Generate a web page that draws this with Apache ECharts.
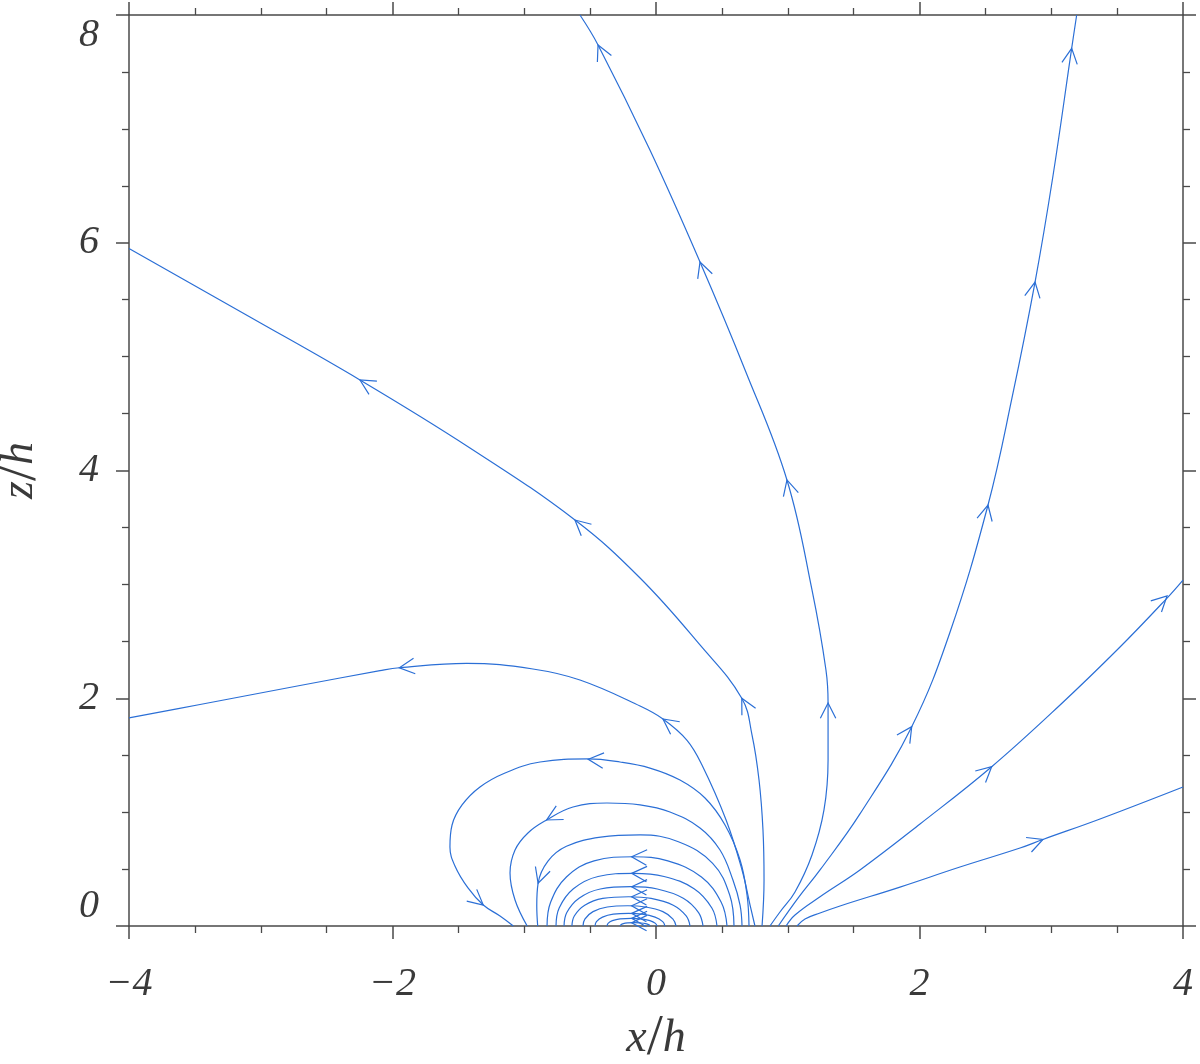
<!DOCTYPE html>
<html><head><meta charset="utf-8">
<script src="https://cdn.jsdelivr.net/npm/echarts@6/dist/echarts.min.js"></script>
<style>html,body{margin:0;padding:0;background:#fff}#c{width:1200px;height:1064px}</style>
</head><body><div id="c"></div>
<script>
// axis ranges / ticks
const xRange = [-4, 4];
const zRange = [0, 8];
const majorStep = 2;

// open field lines [x/h, z/h]
const lineA = [[-4.0,1.827],[-3.461,1.945],[-2.702,2.112],[-2.095,2.242],[-1.948,2.268],[-1.437,2.307],[-0.934,2.257],[-0.577,2.160],[-0.121,1.932],[0.053,1.818],[0.234,1.633],[0.349,1.414],[0.532,0.931],[0.653,0.492],[0.714,0.184],[0.751,0]];
const lineB = [[-4.0,5.950],[-3.082,5.348],[-2.247,4.795],[-1.412,4.198],[-0.615,3.565],[-0.121,3.056],[0.334,2.468],[0.651,2.0],[0.729,1.677],[0.782,1.282],[0.812,0.843],[0.820,0.404],[0.805,0]];
const lineC = [[-0.577,8.0],[-0.440,7.737],[-0.046,6.814],[0.334,5.831],[0.676,4.883],[0.994,3.917],[1.184,2.951],[1.290,2.248],[1.306,1.958],[1.306,1.458],[1.275,1.019],[1.184,0.624],[1.055,0.299],[0.941,0.123],[0.865,0]];
const lineR3 = [[0.928,0],[1.085,0.255],[1.245,0.492],[1.548,0.984],[1.941,1.750],[2.232,2.582],[2.520,3.697],[2.702,4.637],[2.877,5.655],[3.013,6.586],[3.155,7.707],[3.193,8.0]];
const lineR2 = [[0.987,0],[1.055,0.097],[1.245,0.257],[1.548,0.492],[2.004,0.896],[2.548,1.399],[3.067,1.941],[3.522,2.450],[3.879,2.880],[4.0,3.038]];
const lineR1 = [[1.070,0],[1.131,0.061],[1.245,0.114],[1.397,0.176],[1.852,0.342],[2.307,0.518],[2.763,0.685],[2.937,0.760],[3.370,0.940],[4.0,1.221]];

// closed loops
const loopL1 = [[0.706,0],[0.691,0.272],[0.638,0.580],[0.524,0.887],[0.372,1.124],[0.182,1.282],[-0.046,1.387],[-0.273,1.440],[-0.516,1.467],[-0.880,1.440],[-1.146,1.344],[-1.336,1.221],[-1.472,1.063],[-1.548,0.887],[-1.564,0.694],[-1.526,0.527],[-1.427,0.334],[-1.311,0.184],[-1.184,0.088],[-1.083,0]];
const loopL2 = [[0.653,0],[0.638,0.184],[0.584,0.404],[0.486,0.667],[0.334,0.861],[0.106,1.001],[-0.121,1.063],[-0.372,1.080],[-0.630,1.045],[-0.830,0.931],[-0.972,0.817],[-1.070,0.667],[-1.108,0.465],[-1.070,0.228],[-0.978,0]];
const loopL3 = [[0.592,0],[0.56,0.27],[0.43,0.55],[0.17,0.74],[-0.12,0.80],[-0.42,0.78],[-0.68,0.70],[-0.82,0.57],[-0.895,0.375],[-0.905,0.18],[-0.898,0]];
const loopS1 = [[0.539,0],[0.495,0.208],[0.345,0.430],[0.090,0.572],[-0.170,0.608],[-0.470,0.572],[-0.680,0.430],[-0.800,0.208],[-0.827,0]];
const loopS2 = [[0.463,0],[0.424,0.158],[0.289,0.327],[0.061,0.435],[-0.171,0.462],[-0.440,0.435],[-0.627,0.327],[-0.735,0.158],[-0.759,0]];
const loopS3 = [[0.357,0],[0.323,0.118],[0.207,0.244],[0.010,0.325],[-0.191,0.345],[-0.423,0.325],[-0.584,0.244],[-0.677,0.118],[-0.698,0]];
const loopS4 = [[0.258,0],[0.229,0.088],[0.131,0.182],[-0.037,0.242],[-0.207,0.257],[-0.404,0.242],[-0.541,0.182],[-0.620,0.088],[-0.638,0]];
const loopS5 = [[0.152,0],[0.129,0.061],[0.052,0.126],[-0.080,0.167],[-0.214,0.178],[-0.370,0.167],[-0.478,0.126],[-0.540,0.061],[-0.554,0]];
const loopS6 = [[0.068,0],[0.051,0.038],[-0.007,0.078],[-0.107,0.104],[-0.208,0.111],[-0.324,0.104],[-0.406,0.078],[-0.452,0.038],[-0.463,0]];
const loopS7 = [[0.008,0],[-0.004,0.023],[-0.046,0.047],[-0.117,0.063],[-0.189,0.067],[-0.273,0.063],[-0.331,0.047],[-0.364,0.023],[-0.372,0]];
const loopS8 = [[-0.046,0],[-0.053,0.010],[-0.078,0.021],[-0.121,0.027],[-0.164,0.029],[-0.214,0.027],[-0.248,0.021],[-0.268,0.010],[-0.273,0]];

// arrow heads: [tip x, tip z, x behind tip on the line, z behind tip]
const arrows = [
  [2.937,0.760, 2.763,0.685],
  [2.548,1.399, 2.307,1.150],
  [3.879,2.898, 3.674,2.670],
  [1.941,1.750, 1.814,1.528],
  [2.520,3.697, 2.459,3.390],
  [2.877,5.655, 2.839,5.409],
  [3.155,7.707, 3.127,7.473],
  [1.306,1.958, 1.306,1.721],
  [0.994,3.917, 1.055,3.653],
  [0.334,5.831, 0.395,5.629],
  [-0.440,7.737, -0.380,7.587],
  [0.651,2.0, 0.721,1.844],
  [-0.615,3.565, -0.425,3.372],
  [-2.247,4.795, -2.019,4.637],
  [0.053,1.818, 0.175,1.714],
  [-1.948,2.268, -1.796,2.288],
  [-0.514,1.464, -0.364,1.449],
  [-1.311,0.184, -1.427,0.298],
  [-0.830,0.931, -0.697,1.015],
  [-0.895,0.375, -0.850,0.535],
  [-0.185,0.608, -0.045,0.600],
  [-0.185,0.462, -0.045,0.455],
  [-0.185,0.345, -0.045,0.338],
  [-0.185,0.257, -0.045,0.250],
  [-0.185,0.178, -0.045,0.170],
  [-0.185,0.111, -0.045,0.103],
  [-0.185,0.067, -0.045,0.060],
  [-0.185,0.029, -0.045,0.025]
];

const curves = [lineA, lineB, lineC, lineR3, lineR2, lineR1, loopL1, loopL2, loopL3,
  loopS1, loopS2, loopS3, loopS4, loopS5, loopS6, loopS7, loopS8];

const BLUE = '#2b6fd6';
const AX = '#4a4a4a';
const FONT = '"Liberation Serif", serif';
const labelFont = {fontFamily: FONT, fontStyle: 'italic', fontSize: 40, color: '#3a3a3a'};
const fmt = v => (v < 0 ? '\u2212' + Math.abs(v) : String(v));
const nameStyle = {
  fontFamily: FONT, fontStyle: 'italic', fontSize: 46, color: '#3a3a3a',
  rich: {
    v: {fontFamily: FONT, fontStyle: 'italic', fontSize: 46, color: '#3a3a3a'},
    s: {fontFamily: FONT, fontStyle: 'normal', fontSize: 58, color: '#3a3a3a'}
  }
};

function axisCommon(showLabel) {
  return {
    axisLine: {show: true, onZero: false, lineStyle: {color: AX, width: 1.5}},
    axisTick: {show: true, inside: false, length: 13, lineStyle: {color: AX, width: 1.5}},
    minorTick: {show: true, splitNumber: 4, length: 7, lineStyle: {color: AX, width: 1.3}},
    splitLine: {show: false},
    minorSplitLine: {show: false},
    axisLabel: Object.assign({show: showLabel, formatter: fmt}, labelFont)
  };
}

const chart = echarts.init(document.getElementById('c'), null, {renderer: 'canvas'});
const series = curves.map(c => ({
  type: 'line', data: c, showSymbol: false, smooth: 0.4, clip: true, silent: true,
  lineStyle: {color: BLUE, width: 1.2}, xAxisIndex: 0, yAxisIndex: 0
}));
series.push({
  type: 'custom', data: arrows, silent: true, clip: false, xAxisIndex: 0, yAxisIndex: 0,
  encode: {x: 0, y: 1},
  renderItem: function (params, api) {
    const tip = api.coord([api.value(0), api.value(1)]);
    const back = api.coord([api.value(2), api.value(3)]);
    let dx = back[0] - tip[0], dy = back[1] - tip[1];
    const L = Math.hypot(dx, dy) || 1; dx /= L; dy /= L;
    const a = 27 * Math.PI / 180, len = 17, c = Math.cos(a), s = Math.sin(a);
    const p1 = [tip[0] + len * (dx * c - dy * s), tip[1] + len * (dx * s + dy * c)];
    const p2 = [tip[0] + len * (dx * c + dy * s), tip[1] + len * (-dx * s + dy * c)];
    return {type: 'polyline', shape: {points: [p1, tip, p2]}, style: {stroke: BLUE, lineWidth: 1.2, fill: null}};
  }
});

chart.setOption({
  animation: false,
  backgroundColor: '#fff',
  grid: {left: 129, right: 17, top: 15, bottom: 138, containLabel: false, outerBoundsMode: 'none'},
  xAxis: [
    Object.assign(axisCommon(true), {type: 'value', min: xRange[0], max: xRange[1], interval: majorStep, position: 'bottom',
      name: '{v|x}{s|/}{v|h}', nameLocation: 'middle', nameGap: 84, nameTextStyle: nameStyle}),
    Object.assign(axisCommon(false), {type: 'value', min: xRange[0], max: xRange[1], interval: majorStep, position: 'top'})
  ],
  yAxis: [
    Object.assign(axisCommon(true), {type: 'value', min: zRange[0], max: zRange[1], interval: majorStep, position: 'left',
      name: '{v|z}{s|/}{v|h}', nameLocation: 'middle', nameGap: 80, nameRotate: 90, nameTextStyle: nameStyle}),
    Object.assign(axisCommon(false), {type: 'value', min: zRange[0], max: zRange[1], interval: majorStep, position: 'right'})
  ],
  series: series
});
chart.setOption({
  xAxis: [{axisLabel: {margin: 38}}, {}],
  yAxis: [{axisLabel: {margin: 30, verticalAlignMinLabel: 'bottom', verticalAlignMaxLabel: 'top'}}, {}]
});
</script>
</body></html>
